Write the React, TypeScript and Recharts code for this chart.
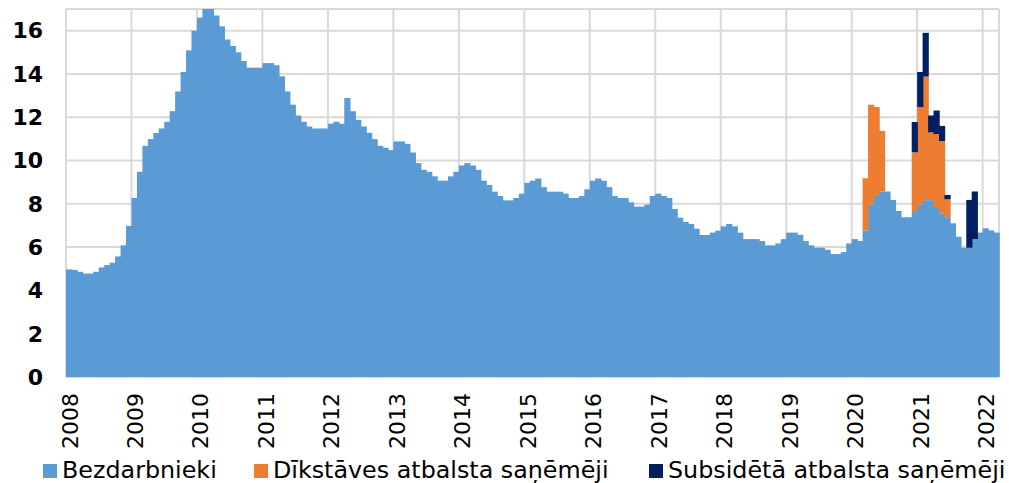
import React from 'react';
import { BarChart, Bar, XAxis, YAxis, CartesianGrid } from 'recharts';

// Year labels on the x axis (one tick per January)
const years = ['2008', '2009', '2010', '2011', '2012', '2013', '2014', '2015', '2016', '2017', '2018', '2019', '2020', '2021', '2022'];

// Monthly values, Jan 2008 .. Mar 2022 (%)
const unemployed = [
  4.97, 4.95, 4.86, 4.78, 4.78, 4.86, 5.06, 5.17, 5.28, 5.57, 6.08, 6.98, // 2008
  8.27, 9.48, 10.68, 10.99, 11.27, 11.48, 11.79, 12.28, 13.19, 14.09, 15.09, 16.0, // 2009
  16.6, 17.2, 17.2, 16.7, 16.2, 15.59, 15.29, 15.0, 14.6, 14.29, 14.29, 14.29, // 2010
  14.5, 14.5, 14.4, 13.89, 13.19, 12.58, 12.08, 11.79, 11.57, 11.48, 11.48, 11.48, // 2011
  11.7, 11.79, 11.7, 12.89, 12.28, 11.88, 11.57, 11.28, 10.99, 10.68, 10.59, 10.48, // 2012
  10.88, 10.88, 10.77, 10.37, 9.88, 9.57, 9.48, 9.27, 9.07, 9.07, 9.27, 9.48, // 2013
  9.77, 9.88, 9.77, 9.57, 9.07, 8.87, 8.56, 8.36, 8.16, 8.16, 8.27, 8.47, // 2014
  8.97, 9.07, 9.17, 8.77, 8.56, 8.56, 8.56, 8.47, 8.27, 8.27, 8.36, 8.67, // 2015
  9.07, 9.17, 9.07, 8.77, 8.36, 8.27, 8.27, 8.07, 7.87, 7.87, 7.96, 8.36, // 2016
  8.47, 8.36, 8.27, 7.76, 7.36, 7.16, 7.07, 6.85, 6.56, 6.56, 6.67, 6.76, // 2017
  6.96, 7.07, 6.96, 6.67, 6.37, 6.37, 6.37, 6.28, 6.08, 6.08, 6.17, 6.37, // 2018
  6.67, 6.67, 6.57, 6.28, 6.08, 5.97, 5.97, 5.88, 5.68, 5.68, 5.77, 6.17, // 2019
  6.37, 6.28, 6.77, 7.97, 8.4, 8.57, 8.57, 8.18, 7.67, 7.38, 7.38, 7.67, // 2020
  7.97, 8.17, 8.17, 7.86, 7.56, 7.35, 7.1, 6.48, 5.97, 5.97, 6.37, 6.67, // 2021
  6.87, 6.77, 6.67, // 2022
];

// Downtime (idle) support recipients
const idleMonths = ['2020-03', '2020-04', '2020-05', '2020-06', '2020-12', '2021-01', '2021-02', '2021-03', '2021-04', '2021-05', '2021-06'];
const idleValues = [2.41, 4.61, 4.07, 2.8, 2.71, 4.5, 5.71, 3.13, 3.36, 3.34, 0.86];

// Wage subsidy recipients
const subsidyMonths = ['2020-12', '2021-01', '2021-02', '2021-03', '2021-04', '2021-05', '2021-06', '2021-10', '2021-11'];
const subsidyValues = [1.4, 1.62, 2.02, 0.78, 1.09, 0.7, 0.2, 2.21, 2.2];

const yTicks = [0, 2, 4, 6, 8, 10, 12, 14, 16];

const FONT = '"DejaVu Sans", Verdana, sans-serif';
const BLUE = '#5B9BD5';
const ORANGE = '#ED7D31';
const NAVY = '#002060';

const monthLabels = unemployed.map(
  (_, i) => `${2008 + Math.floor(i / 12)}-${String((i % 12) + 1).padStart(2, '0')}`
);

const pick = (months: string[], values: number[], m: string) => {
  const k = months.indexOf(m);
  return k >= 0 ? values[k] : 0;
};

const data = monthLabels.map((month, i) => ({
  pos: i + 0.5,
  month,
  bez: unemployed[i],
  dik: pick(idleMonths, idleValues, month),
  sub: pick(subsidyMonths, subsidyValues, month),
}));

const xTicks = years.map((_, k) => k * 12);

const YearTick = (props: any) => {
  const { x, y, payload } = props;
  const label = years[Math.round(payload.value / 12)];
  return (
    <g transform={`translate(${x + 4},${y + 8}) rotate(-90)`}>
      <text x={0} y={0} textAnchor="end" dominantBaseline="central" fontSize={22} fontFamily={FONT} fill="#000">
        {label}
      </text>
    </g>
  );
};

// bar a touch wider than its slot so neighbouring months join without seams
const StepBar = (p: any) =>
  p.height > 0 ? <rect x={p.x} y={p.y} width={p.width + 0.8} height={p.height} fill={p.fill} /> : null;

// legend entries with their left edge (px)
const legendItems = [
  { name: 'Bezdarbnieki', color: BLUE, left: 43 },
  { name: 'Dīkstāves atbalsta saņēmēji', color: ORANGE, left: 254 },
  { name: 'Subsidētā atbalsta saņēmēji', color: NAVY, left: 649 },
];

export default function App() {
  return (
    <div style={{ position: 'absolute', left: 0, top: 0, width: 1009, height: 483, background: '#fff', overflow: 'hidden' }}>
      <BarChart
        width={1009}
        height={453}
        data={data}
        margin={{ top: 9, right: 10, left: 0, bottom: 0 }}
        barCategoryGap={0}
        barGap={0}
      >
        <CartesianGrid stroke="#D9D9D9" strokeWidth={2} />
        <XAxis
          type="number"
          dataKey="pos"
          domain={[0, 171]}
          ticks={xTicks}
          interval={0}
          axisLine={false}
          tickLine={false}
          height={76}
          tick={<YearTick />}
        />
        <YAxis
          domain={[0, 17]}
          ticks={yTicks}
          allowDataOverflow
          axisLine={false}
          tickLine={false}
          width={66}
          tickMargin={17}
          tick={{ fontSize: 22, fontWeight: 'bold', fill: '#000', fontFamily: FONT }}
        />
        <Bar dataKey="bez" stackId="a" barSize={5.4} fill={BLUE} shape={StepBar} isAnimationActive={false} />
        <Bar dataKey="dik" stackId="a" barSize={5.4} fill={ORANGE} shape={StepBar} isAnimationActive={false} />
        <Bar dataKey="sub" stackId="a" barSize={5.4} fill={NAVY} shape={StepBar} isAnimationActive={false} />
      </BarChart>
      {legendItems.map((it) => (
        <div
          key={it.name}
          style={{
            position: 'absolute',
            left: it.left,
            top: 457,
            height: 27,
            display: 'flex',
            alignItems: 'center',
            fontFamily: FONT,
            fontSize: 23.8,
            lineHeight: '27px',
            color: '#000',
            whiteSpace: 'nowrap',
          }}
        >
          <span style={{ width: 14, height: 14, background: it.color, display: 'inline-block', marginRight: 5 }} />
          <span>{it.name}</span>
        </div>
      ))}
    </div>
  );
}
